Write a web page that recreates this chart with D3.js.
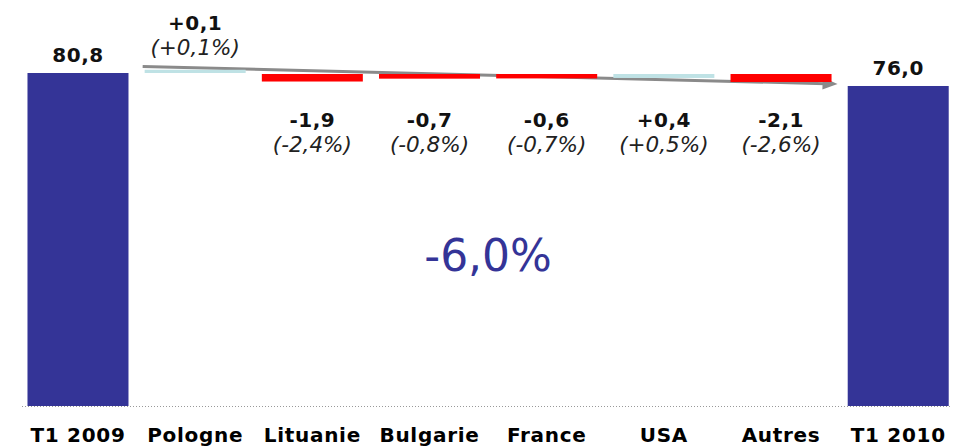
<!DOCTYPE html>
<html>
<head>
<meta charset="utf-8">
<script src="https://cdn.jsdelivr.net/npm/d3@7"></script>
<style>
  body { margin: 0; background: #fff; }
  svg { display: block; font-family: "DejaVu Sans", Verdana, sans-serif; }
</style>
</head>
<body>
<svg id="chart" width="955" height="446"></svg>
<script>
// data
var categories = ['T1 2009', 'Pologne', 'Lituanie', 'Bulgarie', 'France', 'USA', 'Autres', 'T1 2010'];
var totals = [80.8, 76.0];
var variations = [0.1, -1.9, -0.7, -0.6, 0.4, -2.1];
var variationPct = [0.1, -2.4, -0.8, -0.7, 0.5, -2.6];
var totalChangePct = -6.0;

var fr = d3.formatLocale({decimal: ',', thousands: ' ', grouping: [3], currency: ['', ' €'], minus: '-'});
var fmtTotal = fr.format('.1f');
var fmtVar = fr.format('+.1f');

var svg = d3.select('#chart');
var dark = '#343497', red = '#ff0000', light = '#bfe2e5';

var x = d3.scaleBand()
    .domain(categories)
    .range([19.4, 956.8])
    .paddingInner(0.138)
    .paddingOuter(0.069);

// truncated value axis, as in the original slide
var y = d3.scaleLinear().domain([-42.2, 80.8]).range([406, 73]);

// variation bars are drawn small, hanging from the start level
var h = d3.scaleLinear().domain([0, 2.1]).range([3, 8]);

var base = y(totals[0]);
var bw = x.bandwidth();

// arrow
var x1 = x(categories[1]) - 2, y1 = base - 6.5;
var x2 = x(categories[6]) + bw + 6, y2 = y(totals[1]) - 2;
var ang = Math.atan2(y2 - y1, x2 - x1);
svg.append('line')
    .attr('x1', x1).attr('y1', y1)
    .attr('x2', x2 - 12 * Math.cos(ang)).attr('y2', y2 - 12 * Math.sin(ang))
    .attr('stroke', '#8a8a8a')
    .attr('stroke-width', 3);
var head = [[x2, y2],
  [x2 - 15 * Math.cos(ang) - 6 * Math.sin(ang), y2 - 15 * Math.sin(ang) + 6 * Math.cos(ang)],
  [x2 - 15 * Math.cos(ang) + 6 * Math.sin(ang), y2 - 15 * Math.sin(ang) - 6 * Math.cos(ang)]];
svg.append('polygon')
    .attr('points', head.map(function(p) { return p.join(','); }).join(' '))
    .attr('fill', '#8a8a8a');

// totals
var totalCats = [categories[0], categories[categories.length - 1]];
svg.append('g').selectAll('rect')
    .data(totals)
    .enter().append('rect')
    .attr('x', function(d, i) { return x(totalCats[i]); })
    .attr('y', function(d) { return y(d); })
    .attr('width', bw)
    .attr('height', function(d) { return y.range()[0] - y(d); })
    .attr('fill', dark);

svg.append('g').selectAll('text')
    .data(totals)
    .enter().append('text')
    .attr('x', function(d, i) { return x(totalCats[i]) + bw / 2; })
    .attr('y', function(d) { return y(d) - 11; })
    .attr('text-anchor', 'middle')
    .attr('font-size', 20)
    .attr('font-weight', 'bold')
    .attr('letter-spacing', 0.5)
    .attr('fill', '#111')
    .text(fmtTotal);

// variations
var varCats = categories.slice(1, 7);
svg.append('g').selectAll('rect')
    .data(variations)
    .enter().append('rect')
    .attr('x', function(d, i) { return x(varCats[i]); })
    .attr('y', function(d, i) { return i === 0 ? base - h(Math.abs(d)) : base + 1; })
    .attr('width', bw)
    .attr('height', function(d) { return h(Math.abs(d)); })
    .attr('fill', function(d) { return d >= 0 ? light : red; });

var vLabels = svg.append('g').selectAll('g')
    .data(variations)
    .enter().append('g')
    .attr('transform', function(d, i) {
      var ty = i === 0 ? base - 43 : base + 54;
      return 'translate(' + (x(varCats[i]) + bw / 2) + ',' + ty + ')';
    });

vLabels.append('text')
    .attr('text-anchor', 'middle')
    .attr('font-size', 20)
    .attr('font-weight', 'bold')
    .attr('letter-spacing', 0.5)
    .attr('fill', '#111')
    .text(fmtVar);

vLabels.append('text')
    .attr('y', 25)
    .attr('text-anchor', 'middle')
    .attr('font-size', 21.5)
    .attr('font-style', 'italic')
    .attr('fill', '#222')
    .text(function(d, i) { return '(' + fmtVar(variationPct[i]) + '%)'; });

// overall change
svg.append('text')
    .attr('x', x(categories[4]) - (x.step() - bw) / 2)
    .attr('y', 271)
    .attr('text-anchor', 'middle')
    .attr('font-size', 44)
    .attr('fill', dark)
    .text(fmtTotal(totalChangePct) + '%');

// dotted base line
svg.append('line')
    .attr('x1', 22).attr('x2', 950)
    .attr('y1', y.range()[0] + 0.5).attr('y2', y.range()[0] + 0.5)
    .attr('stroke', '#999')
    .attr('stroke-width', 1)
    .attr('stroke-dasharray', '1,2');

// category labels
svg.append('g').selectAll('text')
    .data(categories)
    .enter().append('text')
    .attr('x', function(d) { return x(d) + bw / 2; })
    .attr('y', 442)
    .attr('text-anchor', 'middle')
    .attr('font-size', 20)
    .attr('font-weight', 'bold')
    .attr('letter-spacing', 0.7)
    .attr('fill', '#000')
    .text(function(d) { return d; });
</script>
</body>
</html>
